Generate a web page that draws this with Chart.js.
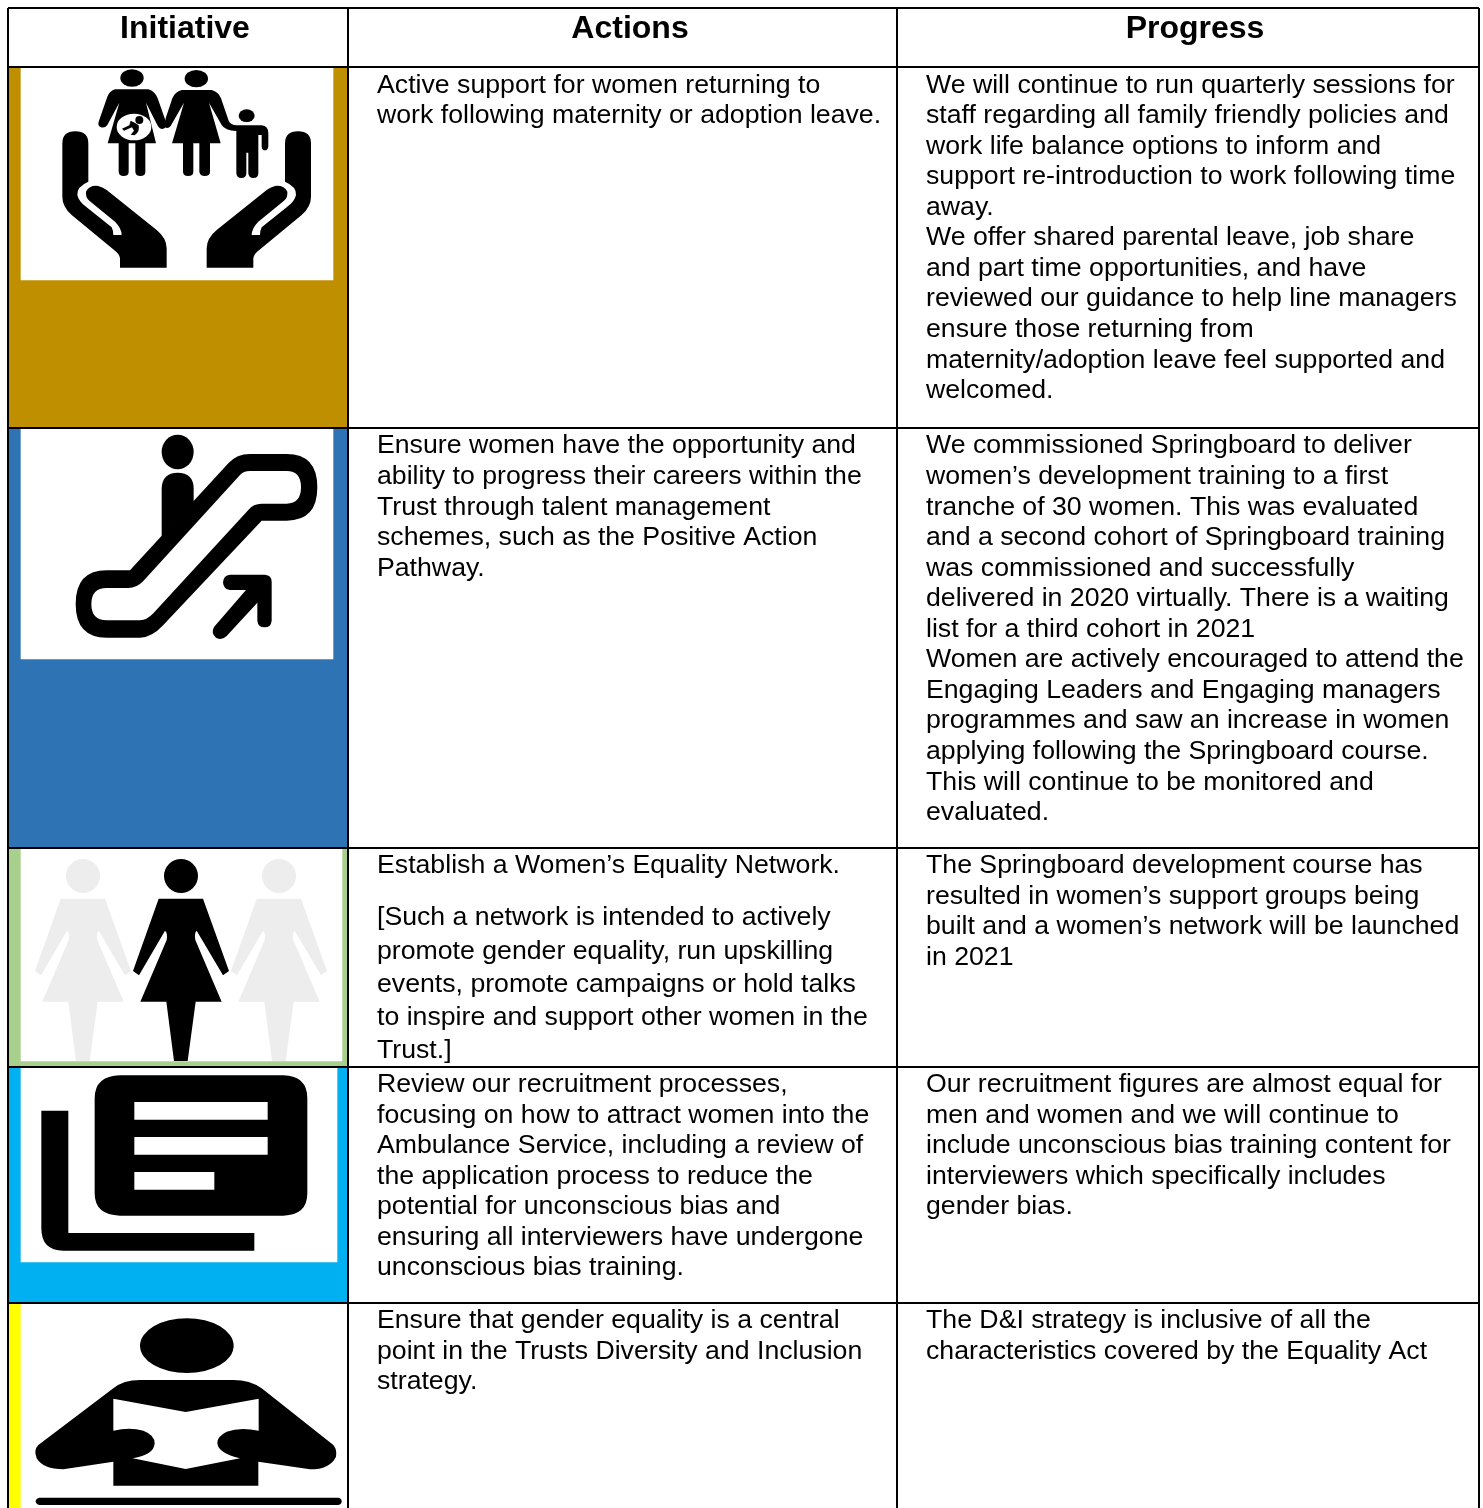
<!DOCTYPE html>
<html>
<head>
<meta charset="utf-8">
<title>Initiatives</title>
<script src="https://cdn.jsdelivr.net/npm/chart.js@4/dist/chart.umd.min.js"></script>
<style>
  html, body { margin: 0; padding: 0; background: #fff; }
  canvas { display: block; }
</style>
</head>
<body>
<canvas id="grafico" width="1483" height="1508"></canvas>
<script>
// table structure
const headers = ['Initiative', 'Actions', 'Progress'];
const headerCentres = [185, 630, 1195];
const colEdges = [8, 348, 897, 1479];
const rowEdges = [8, 67, 428, 848, 1067, 1303, 1508];
const rowColours = ['#BF8F00', '#2E74B5', '#A8D08D', '#00B0F0', '#FFFF00'];
const panelRight = [333, 333, 342, 337, 348];
const panelBottom = [280, 659, 1061, 1262, 1508];

// cell text, one list per row, split the way the source wraps it
const actionLines = [
  ['Active support for women returning to', 'work following maternity or adoption leave.'],
  ['Ensure women have the opportunity and', 'ability to progress their careers within the', 'Trust through talent management', 'schemes, such as the Positive Action', 'Pathway.'],
  ['Establish a Women\u2019s Equality Network.'],
  ['Review our recruitment processes,', 'focusing on how to attract women into the', 'Ambulance Service, including a review of', 'the application process to reduce the', 'potential for unconscious bias and', 'ensuring all interviewers have undergone', 'unconscious bias training.'],
  ['Ensure that gender equality is a central', 'point in the Trusts Diversity and Inclusion', 'strategy.']
];
const networkNote = ['[Such a network is intended to actively', 'promote gender equality, run upskilling', 'events, promote campaigns or hold talks', 'to inspire and support other women in the', 'Trust.]'];
const progressLines = [
  ['We will continue to run quarterly sessions for', 'staff regarding all family friendly policies and', 'work life balance options to inform and', 'support re-introduction to work following time', 'away.', 'We offer shared parental leave, job share', 'and part time opportunities, and have', 'reviewed our guidance to help line managers', 'ensure those returning from', 'maternity/adoption leave feel supported and', 'welcomed.'],
  ['We commissioned Springboard to deliver', 'women\u2019s development training to a first', 'tranche of 30 women. This was evaluated', 'and a second cohort of Springboard training', 'was commissioned and successfully', 'delivered in 2020 virtually. There is a waiting', 'list for a third cohort in 2021', 'Women are actively encouraged to attend the', 'Engaging Leaders and Engaging managers', 'programmes and saw an increase in women', 'applying following the Springboard course.', 'This will continue to be monitored and', 'evaluated.'],
  ['The Springboard development course has', 'resulted in women\u2019s support groups being', 'built and a women\u2019s network will be launched', 'in 2021'],
  ['Our recruitment figures are almost equal for', 'men and women and we will continue to', 'include unconscious bias training content for', 'interviewers which specifically includes', 'gender bias.'],
  ['The D&I strategy is inclusive of all the', 'characteristics covered by the Equality Act']
];
const firstBaselines = [92.6, 453.45, 873, 1092, 1328];

const FONT = '"Liberation Sans", Arial, sans-serif';
const TEXT_SIZE = 26.68;
const LINE_PITCH = 30.55;

// icons are traced at 3x, each one with its own page offset
const icons = [
  { ox: 0, oy: 0, fill: '#000', paths: [
    'M361 234a35 26 0 1 0 70 0a35 26 0 1 0 -70 0Z',
    'M554 236a35 26 0 1 0 70 0a35 26 0 1 0 -70 0Z',
    'M716 347a24 19 0 1 0 48 0a24 19 0 1 0 -48 0Z',
    'M345 268L445 268Q465 274 473 295L498 366Q502 384 487 387Q478 387 472 375L438 308L468 430L436 430L436 515Q436 528 421 528Q407 528 406 515L406 430L386 430L386 515Q386 528 371 528Q357 528 356 515L356 430L323 430L358 308L322 375Q315 385 303 382Q292 378 296 365L322 290Q330 272 345 268Z',
    'M545 270L635 270Q655 275 663 295L686 362Q692 375 710 376L785 376Q805 378 805 400L805 440Q803 451 795 451Q786 451 785 440L785 405L775 405L775 520Q775 534 760 534Q746 534 745 520L745 458L739 458L739 520Q739 534 724 534Q710 534 709 520L709 393Q675 392 665 375L627 308L662 430L630 430L630 515Q630 528 614 528Q600 528 598 515L598 430L580 430L580 515Q580 528 564 528Q550 528 549 515L549 430L516 430L552 308L512 378Q504 388 495 382Q492 368 498 352L517 295Q525 275 545 270Z',
    'M226 394Q265 394 265 430L265 545Q230 560 232 585Q236 605 260 622L335 682Q340 692 340 705L365 705Q365 685 345 665L268 602Q256 592 258 575Q268 555 295 558Q310 562 320 570L470 690Q500 715 500 745L500 803L360 803L360 775Q358 762 345 752L215 645Q187 620 187 590L187 430Q187 394 226 394Z',
    'M894 394Q855 394 855 430L855 545Q890 560 888 585Q884 605 860 622L785 682Q780 692 780 705L755 705Q755 685 775 665L852 602Q864 592 862 575Q852 555 825 558Q810 562 800 570L650 690Q620 715 620 745L620 803L760 803L760 775Q762 762 775 752L905 645Q933 620 933 590L933 430Q933 394 894 394Z'
  ], white: ['M350 381a52 40 0 1 0 104 0a52 40 0 1 0 -104 0Z'],
     over: ['M406 360a12 12 0 1 0 24 0a12 12 0 1 0 -24 0Z', 'M392 362L404 368L416 376Q420 396 404 406L392 404L402 392L396 382L372 392L366 386L388 376Z'] },
  { ox: 0, oy: 425, fill: '#000', rule: 'evenodd', paths: [
    'M485 81a48 52 0 1 0 96 0a48 52 0 1 0 -96 0Z',
    'M390 436L685 115Q710 87 750 87L860 87Q952 87 952 187Q952 287 860 287L785 287L490 600Q455 638 420 638L320 638Q227 638 227 537Q227 436 320 436ZM430 468L720 150Q730 138 750 138L860 138Q903 138 903 187Q903 236 860 236L785 236Q760 236 745 255L460 565Q440 586 420 586L320 586Q274 586 274 537Q274 489 320 489L385 489Q410 489 430 468Z',
    'M485 335L485 190Q487 143 533 143Q580 143 581 190L581 232Z',
    'M690 449L795 449Q815 451 815 470L815 587Q813 607 794 607Q774 607 772 587L772 533L680 633Q665 648 648 638Q632 625 642 606L738 495L690 495Q670 493 669 472Q670 451 690 449Z'
  ] },
  { ox: -98, oy: 845, fill: '#EDEDED', paths: ['woman'] },
  { ox: 98, oy: 845, fill: '#EDEDED', paths: ['woman'] },
  { ox: 0, oy: 845, fill: '#000', paths: ['woman'] },
  { ox: 0, oy: 1060, fill: '#000', rule: 'evenodd', paths: [
    'M360 46L850 46Q922 48 922 115L922 400Q922 465 850 467L360 467Q284 465 284 400L284 115Q284 48 360 46ZM403 126L403 179L803 179L803 126ZM403 231L403 284L803 284L803 231ZM403 336L403 389L643 389L643 336Z',
    'M124 152L205 152L205 519L763 519L763 572L190 572Q124 572 124 505Z'
  ] },
  { ox: 0, oy: 1060, fill: '#000', paths: [
    'M420 857a140 82 0 1 0 281 0a140 82 0 1 0 -281 0Z',
    'M340 985Q370 960 420 960L700 960Q750 960 785 985L1000 1155Q1012 1170 1008 1190Q990 1228 930 1228L775 1205L775 1277L340 1277L340 1205L190 1228Q130 1228 110 1195Q100 1170 115 1155Z',
    'M118 1313L1015 1313Q1025 1315 1025 1324Q1025 1334 1015 1335L118 1335Q108 1334 107 1324Q108 1315 118 1313Z'
  ], white: ['M340 1016L557 1056L776 1016L776 1112Q720 1100 680 1115Q650 1130 652 1150Q655 1180 720 1195L557 1227L398 1195Q462 1185 464 1150Q464 1125 430 1112Q390 1100 340 1112Z'] }
];
const womanPath = 'M492 93a51 51 0 1 0 102 0a51 51 0 1 0 -102 0ZM476 161L609 161L687 378L669 391L590 257Q582 265 586 285L665 470L587 470L563 648L522 648L499 470L421 470L500 285Q504 265 495 257L417 391L399 378Z';

function band(left, right, top, bottom, colour) {
  return {
    type: 'bar',
    data: [{ x: [left, right], y: (top + bottom) / 2 }],
    backgroundColor: colour,
    barThickness: bottom - top,
    borderWidth: 0,
    borderSkipped: false,
    grouped: false
  };
}

// white panels first because dataset 0 is painted on top
const datasets = [];
rowColours.forEach(function(c, i) {
  datasets.push(band(21, panelRight[i], rowEdges[i + 1], panelBottom[i], '#FFFFFF'));
});
rowColours.forEach(function(c, i) {
  datasets.push(band(colEdges[0], colEdges[1], rowEdges[i + 1], rowEdges[i + 2], c));
});

const iconPlugin = {
  id: 'icons',
  afterDatasetsDraw(chart) {
    const ctx = chart.ctx;
    icons.forEach(function(icon) {
      ctx.save();
      ctx.translate(icon.ox, icon.oy);
      ctx.scale(1 / 3, 1 / 3);
      ctx.fillStyle = icon.fill;
      icon.paths.forEach(function(p) {
        ctx.fill(new Path2D(p === 'woman' ? womanPath : p), icon.rule || 'nonzero');
      });
      ctx.fillStyle = '#fff';
      (icon.white || []).forEach(function(p) { ctx.fill(new Path2D(p)); });
      ctx.fillStyle = icon.fill;
      (icon.over || []).forEach(function(p) { ctx.fill(new Path2D(p)); });
      ctx.restore();
    });
  }
};

const textPlugin = {
  id: 'cellText',
  afterDraw(chart) {
    const ctx = chart.ctx;
    ctx.save();
    ctx.fillStyle = '#000';
    ctx.textBaseline = 'alphabetic';
    ctx.textAlign = 'center';
    ctx.font = 'bold 32px ' + FONT;
    headers.forEach(function(h, i) { ctx.fillText(h, headerCentres[i], 38); });
    ctx.textAlign = 'left';
    ctx.font = TEXT_SIZE + 'px ' + FONT;
    firstBaselines.forEach(function(y0, r) {
      actionLines[r].forEach(function(t, k) { ctx.fillText(t, 377, y0 + k * LINE_PITCH); });
      progressLines[r].forEach(function(t, k) { ctx.fillText(t, 926, y0 + k * LINE_PITCH); });
    });
    networkNote.forEach(function(t, k) { ctx.fillText(t, 377, 925.4 + k * 33.2); });
    ctx.restore();
  }
};

function gridOptions() {
  return { color: '#000', lineWidth: 2, drawTicks: false, z: 1, offset: false };
}

new Chart(document.getElementById('grafico').getContext('2d'), {
  type: 'bar',
  data: { datasets: datasets },
  options: {
    indexAxis: 'y',
    responsive: false,
    animation: false,
    layout: { padding: { left: colEdges[0], top: rowEdges[0], right: 1483 - colEdges[3], bottom: 0 } },
    plugins: { legend: { display: false }, tooltip: { enabled: false }, title: { display: false } },
    scales: {
      x: {
        type: 'linear',
        offset: false,
        min: colEdges[0],
        max: colEdges[3],
        afterBuildTicks(scale) { scale.ticks = colEdges.map(function(v) { return { value: v }; }); },
        grid: gridOptions(),
        border: { display: false },
        ticks: { display: false }
      },
      y: {
        type: 'linear',
        offset: false,
        reverse: true,
        min: rowEdges[0],
        max: rowEdges[6],
        // the table runs off the bottom of the page, so no closing rule
        afterBuildTicks(scale) { scale.ticks = rowEdges.slice(0, -1).map(function(v) { return { value: v }; }); },
        grid: gridOptions(),
        border: { display: false },
        ticks: { display: false }
      }
    }
  },
  plugins: [iconPlugin, textPlugin]
});
</script>
</body>
</html>
